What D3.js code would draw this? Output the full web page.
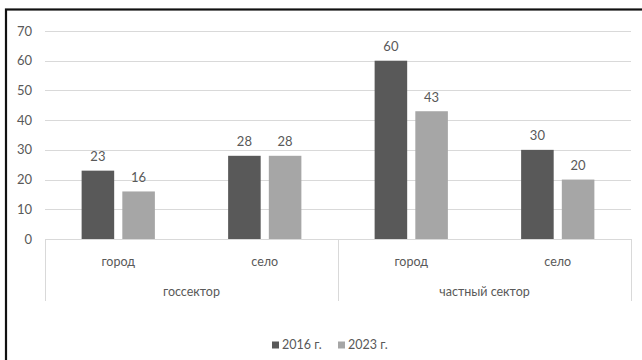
<!DOCTYPE html>
<html><head><meta charset="utf-8">
<script src="https://cdn.jsdelivr.net/npm/d3@7"></script>
<style>body{margin:0;background:#fff}svg{display:block}text{font-family:Lato,"Open Sans",sans-serif;fill:#595959}</style>
</head><body>
<script>
const categories = ["город","село","город","село"];
const groups = ["госсектор","частный сектор"];
const series = ["2016 г.","2023 г."];
const values2016 = [23,28,60,30];
const values2023 = [16,28,43,20];
const yTicks = [0,10,20,30,40,50,60,70];
const colors = ["#595959","#a6a6a6"];

const W=642,H=360;
const svg=d3.select("body").append("svg").attr("width",W).attr("height",H);
svg.append("rect").attr("width",W).attr("height",H).attr("fill","#fff");
// frame
svg.append("rect").attr("x",6).attr("y",9.5).attr("width",W+10).attr("height",H+10)
  .attr("fill","none").attr("stroke","#111").attr("stroke-width",2.2);

const L=45,R=631,T=31,B=239;
const y=d3.scaleLinear().domain([0,70]).range([B,T]);
const x0=d3.scaleBand().domain(d3.range(categories.length)).range([L,R]).paddingInner(0.5).paddingOuter(0.25);
const x1=d3.scaleBand().domain(d3.range(series.length)).range([0,x0.bandwidth()]).paddingInner(0.2);

// grid
svg.append("g").selectAll("line").data(yTicks.filter(d=>d>0)).join("line")
  .attr("x1",L).attr("x2",R).attr("y1",d=>Math.round(y(d))+0.5).attr("y2",d=>Math.round(y(d))+0.5)
  .attr("stroke","#d9d9d9").attr("stroke-width",1);
// y labels
svg.append("g").selectAll("text").data(yTicks).join("text")
  .attr("x",32).attr("y",d=>y(d)).attr("dy","0.35em").attr("text-anchor","end")
  .attr("font-size",13).text(d=>d);

const data=[values2016,values2023];
series.forEach((s,si)=>{
  const g=svg.append("g");
  g.selectAll("rect").data(data[si]).join("rect")
    .attr("x",(d,i)=>x0(i)+x1(si)).attr("width",x1.bandwidth())
    .attr("y",d=>y(d)).attr("height",d=>y(0)-y(d)).attr("fill",colors[si]);
  g.selectAll("text").data(data[si]).join("text")
    .attr("x",(d,i)=>x0(i)+x1(si)+x1.bandwidth()/2).attr("y",d=>y(d)-9.5)
    .attr("text-anchor","middle").attr("font-size",13).text(d=>d);
});

// category axis
const step=x0.step();
svg.append("line").attr("x1",L).attr("x2",R).attr("y1",B+0.5).attr("y2",B+0.5).attr("stroke","#d9d9d9");
const seps=[L, L+2*step, R];
svg.append("g").selectAll("line").data(seps).join("line")
  .attr("x1",d=>Math.round(d)+0.5).attr("x2",d=>Math.round(d)+0.5).attr("y1",B).attr("y2",301)
  .attr("stroke","#d9d9d9");
svg.append("g").selectAll("text").data(categories).join("text")
  .attr("x",(d,i)=>x0(i)+x0.bandwidth()/2).attr("y",262).attr("dy","0.35em")
  .attr("text-anchor","middle").attr("font-size",12.5).text(d=>d);
svg.append("g").selectAll("text").data(groups).join("text")
  .attr("x",(d,i)=>L+step*(2*i+1)).attr("y",292).attr("dy","0.35em")
  .attr("text-anchor","middle").attr("font-size",12.5).text(d=>d);

// legend
const lx=[272,338];
series.forEach((s,i)=>{
  svg.append("rect").attr("x",lx[i]).attr("y",341.5).attr("width",7).attr("height",7).attr("fill",colors[i]);
  svg.append("text").attr("x",lx[i]+10).attr("y",345).attr("dy","0.35em").attr("font-size",12.5).text(s);
});
</script>
</body></html>
